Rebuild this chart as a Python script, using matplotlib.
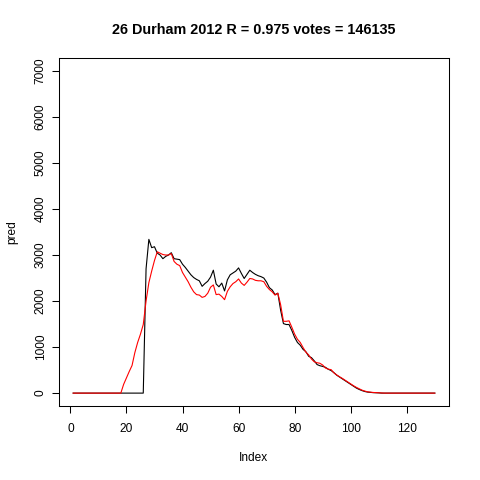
import numpy as np
import matplotlib
matplotlib.use('agg')
import matplotlib.pyplot as plt

# values (index 1..130)
idx = np.arange(1, 131)

black_head = [2700, 3340, 3160, 3180, 3040, 3000, 2920, 2970, 3000, 3050,
              2920, 2910, 2900, 2800, 2730, 2650, 2570, 2510, 2470, 2440,
              2320, 2380, 2430, 2520, 2670, 2370, 2310, 2390, 2220, 2460,
              2570, 2610, 2650, 2720, 2600, 2490, 2580, 2670, 2620, 2580,
              2550, 2530, 2500, 2410, 2290, 2240, 2140, 2170, 1800, 1510,
              1490, 1490, 1360, 1210, 1100, 1040, 950, 900, 800, 770,
              700, 620, 595, 580, 560, 518, 490, 445, 390, 350,
              310, 270, 230, 190, 150, 110, 80, 55, 35, 22,
              15, 10, 8, 5]
black = [0] * 26 + black_head + [0] * (130 - 26 - len(black_head))

red_head = [190, 330, 470, 600, 880, 1100, 1280, 1490, 2000, 2400,
            2650, 2880, 3070, 3040, 3010, 3000, 3000, 3030, 2860, 2800,
            2770, 2620, 2520, 2420, 2300, 2200, 2140, 2130, 2080, 2100,
            2170, 2300, 2350, 2140, 2150, 2100, 2030, 2210, 2310, 2380,
            2420, 2480, 2390, 2340, 2410, 2490, 2480, 2450, 2440, 2440,
            2420, 2320, 2250, 2200, 2130, 2170, 1920, 1560, 1560, 1570,
            1430, 1280, 1170, 1100, 990, 890, 830, 740, 680, 660,
            648, 610, 545, 520, 510, 440, 395, 355, 320, 280,
            240, 200, 160, 125, 95, 65, 45, 28, 20, 14,
            10, 6]
red = [0] * 18 + red_head + [0] * (130 - 18 - len(red_head))

title = '26 Durham 2012 R = 0.975 votes = 146135'
xticks = [0, 20, 40, 60, 80, 100, 120]
yticks = [0, 1000, 2000, 3000, 4000, 5000, 6000, 7000]

plt.rcParams['font.family'] = ['Liberation Sans', 'DejaVu Sans']

fig = plt.figure(figsize=(4.8, 4.8), dpi=100)
ax = fig.add_axes([58.7/480, 1-406/480, (449.3-58.7)/480, (406-58)/480])

ax.plot(idx, black, color='black', lw=0.8)
ax.plot(idx, red, color='red', lw=0.8)

ax.set_xlim(1 - 0.04*129, 130 + 0.04*129)
ax.set_ylim(-280, 7280)
ax.set_xticks(xticks)
ax.set_yticks(yticks)
ax.set_yticklabels([str(v) for v in yticks], rotation=90, va='center')
ax.tick_params(axis='both', length=5.2, width=0.75, labelsize=8.6, color='black')
ax.tick_params(axis='x', pad=7)
ax.tick_params(axis='y', pad=3.5)
for s in ax.spines.values():
    s.set_linewidth(0.75)

fig.text(254/480, 1-30/480, title, ha='center', va='center', fontsize=10.4, fontweight='bold')
fig.text(254/480, 1-458/480, 'Index', ha='center', va='center', fontsize=8.6)
fig.text(12/480, 1-232/480, 'pred', ha='center', va='center', fontsize=8.6, rotation=90)

fig.savefig('out.png', dpi=100)
